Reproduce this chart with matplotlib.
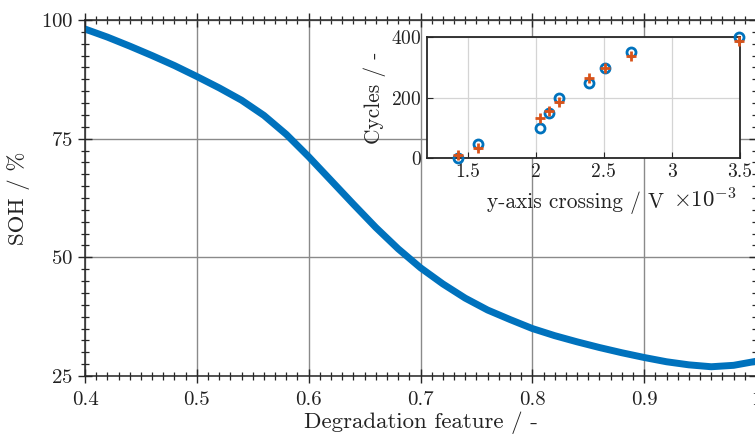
import matplotlib
matplotlib.use("Agg")
import matplotlib.pyplot as plt
from matplotlib.ticker import MultipleLocator

plt.rcParams['font.family'] = 'serif'
plt.rcParams['font.serif'] = ['cmr10']
plt.rcParams['mathtext.fontset'] = 'cm'
plt.rcParams['axes.formatter.use_mathtext'] = True

# Main curve: degradation feature vs SOH
feature = [0.40, 0.42, 0.44, 0.46, 0.48, 0.50, 0.52, 0.54, 0.56, 0.58,
           0.60, 0.62, 0.64, 0.66, 0.68, 0.70, 0.72, 0.74, 0.76, 0.78,
           0.80, 0.82, 0.84, 0.86, 0.88, 0.90, 0.92, 0.94, 0.96, 0.98, 1.00]
soh = [98.1, 96.4, 94.5, 92.5, 90.4, 88.1, 85.7, 83.1, 79.9, 75.9,
       71.2, 66.2, 61.2, 56.3, 51.8, 47.8, 44.4, 41.4, 38.9, 36.9,
       35.0, 33.5, 32.2, 31.0, 29.9, 28.9, 28.0, 27.35, 26.95, 27.25, 28.1]

# Inset: y-axis crossing (x1e-3 V) vs cycles
crossing = [1.427, 1.58, 2.035, 2.10, 2.17, 2.39, 2.51, 2.70, 3.495]
cycles_measured = [0, 48, 100, 150, 200, 250, 300, 350, 400]
cycles_fit = [10, 35, 133, 157, 187, 264, 297, 338, 388]

main_xticks = [0.4, 0.5, 0.6, 0.7, 0.8, 0.9, 1.0]
main_xticklabels = ['0.4', '0.5', '0.6', '0.7', '0.8', '0.9', '1']
main_yticks = [25, 50, 75, 100]
inset_xticks = [1.5, 2, 2.5, 3, 3.5]
inset_xticklabels = ['1.5', '2', '2.5', '3', '3.5']
inset_yticks = [0, 200, 400]

blue = '#0072BD'
orange = '#D95319'
axc = '#262626'
txt = '#222222'

fig = plt.figure(figsize=(7.55, 4.38), dpi=100)
ax = fig.add_axes([85/755, 1-376/438, 671/755, 356/438])
ax.plot(feature, soh, color=blue, lw=5, solid_capstyle='butt', solid_joinstyle='round')
ax.set_xlim(0.4, 1.0)
ax.set_ylim(25, 100)
ax.set_xticks(main_xticks)
ax.set_xticklabels(main_xticklabels)
ax.set_yticks(main_yticks)
ax.xaxis.set_minor_locator(MultipleLocator(0.01))
ax.yaxis.set_minor_locator(MultipleLocator(2.5))
ax.tick_params(which='both', direction='inout', top=True, right=True,
               colors=axc, labelcolor=txt, labelsize=15)
ax.tick_params(which='major', length=10, width=1)
ax.tick_params(which='minor', length=6, width=0.9)
ax.tick_params(axis='x', pad=6)
ax.grid(True, which='major', color='#8a8a8a', lw=1)
for s in ax.spines.values():
    s.set_color(axc)
    s.set_linewidth(1.1)
ax.set_xlabel('Degradation feature / -', fontsize=16.5, color=txt, labelpad=2)
ax.set_ylabel('SOH / %', fontsize=16.5, color=txt, labelpad=8)

ins = fig.add_axes([426.7/755, 1-158.3/438, 313.3/755, 121/438])
ins.set_facecolor('white')
ins.plot(crossing, cycles_measured, 'o', mfc='none', mec=blue, mew=2, ms=6.5,
         zorder=3, clip_on=False)
ins.plot(crossing, cycles_fit, '+', color=orange, mew=2, ms=7, zorder=4, clip_on=False)
ins.set_xlim(1.2, 3.5)
ins.set_ylim(0, 400)
ins.set_xticks(inset_xticks)
ins.set_xticklabels(inset_xticklabels)
ins.set_yticks(inset_yticks)
ins.tick_params(direction='in', length=4, colors=axc, labelcolor=txt, labelsize=14)
ins.grid(True, color='#d4d4d4', lw=0.9)
ins.set_axisbelow(True)
for s in ins.spines.values():
    s.set_color(axc)
    s.set_linewidth(1.3)
ins.set_xlabel('y-axis crossing / V', fontsize=15.4, color=txt)
ins.xaxis.label.set_va('baseline')
ins.xaxis.set_label_coords(0.475, -0.41)
ins.text(0.99, -0.41, r'$\times 10^{-3}$', transform=ins.transAxes, ha='right',
         va='baseline', fontsize=16.5, color=txt)
ins.set_ylabel('Cycles / -', fontsize=15.4, color=txt, labelpad=4)

fig.savefig('out.png', dpi=100)
